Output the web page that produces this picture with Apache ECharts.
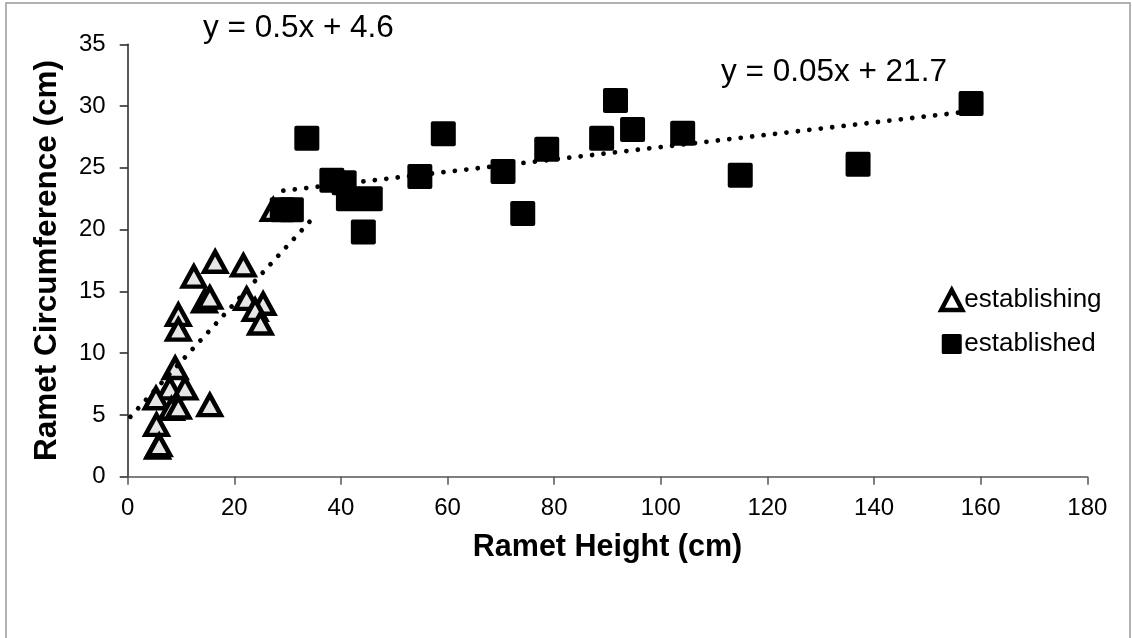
<!DOCTYPE html>
<html>
<head>
<meta charset="utf-8">
<script src="https://cdn.jsdelivr.net/npm/echarts@6/dist/echarts.min.js"></script>
<style>
  html, body { margin: 0; padding: 0; background: #fff; }
  #chart { width: 1132px; height: 638px; }
</style>
</head>
<body>
<div id="chart"></div>
<script>
// ramet height (cm), circumference (cm)
var establishing = [
	[16.4, 17.4], [21.7, 17.1], [12.4, 16.2], [14.4, 14.2], [15.4, 14.5],
	[9.5, 13.1], [9.5, 11.9], [22.3, 14.4], [25.4, 14.0], [23.9, 13.5],
	[24.9, 12.4], [8.9, 8.8], [7.9, 7.15], [10.75, 7.15], [5.3, 6.35],
	[8.2, 5.5], [9.5, 5.6], [15.4, 5.8], [5.4, 4.2], [5.6, 2.35],
	[5.9, 2.55], [27.3, 21.6]
];
var established = [
	[29.0, 21.6], [30.7, 21.6], [33.6, 27.4], [38.3, 24.0], [40.6, 23.8],
	[41.4, 22.5], [45.5, 22.5], [44.2, 19.8], [54.8, 24.3], [59.2, 27.75],
	[70.4, 24.7], [74.1, 21.3], [78.6, 26.5], [88.9, 27.4], [91.5, 30.45],
	[94.7, 28.1], [104.1, 27.8], [114.9, 24.4], [137.0, 25.3], [158.2, 30.2]
];
// trendline end points
var establishingFit = [[0.5, 4.85], [35.3, 21.2]];
var establishedFit = [[29.2, 23.15], [158.5, 29.6]];
var fitLabels = ['y = 0.5x + 4.6', 'y = 0.05x + 21.7'];
var seriesNames = ['establishing', 'established'];

var font = "'Liberation Sans', Arial, sans-serif";
// square marker with slightly rounded corners, like the Excel one
var roundSquare = 'path://M2,0 H23 Q25,0 25,2 V23 Q25,25 23,25 H2 Q0,25 0,23 V2 Q0,0 2,0 Z';

function fitSeries(data){
	return {
		type: 'line',
		data: data,
		symbol: 'none',
		silent: true,
		z: 5,
		lineStyle: {
			color: '#000',
			width: 4.8,
			type: [0.01, 11.5],
			cap: 'round'
		}
	};
}

var chart = echarts.init(document.getElementById('chart'));
chart.setOption({
	animation: false,
	textStyle: { fontFamily: font },
	grid: {
		left: 127.7,
		right: 44.7,
		top: 44.3,
		bottom: 161.3
	},
	legend: {
		orient: 'vertical',
		left: 934,
		top: 282,
		itemWidth: 21,
		itemHeight: 20,
		itemGap: 18,
		data: [
			{
				name: seriesNames[0],
				icon: 'triangle',
				itemStyle: { color: '#fff', borderColor: '#000', borderWidth: 4.5 }
			},
			{
				name: seriesNames[1],
				icon: roundSquare
			}
		],
		textStyle: { fontSize: 26, color: '#000', fontFamily: font, padding: [0, 0, 0, -3] }
	},
	xAxis: {
		type: 'value',
		min: 0,
		max: 180,
		interval: 20,
		splitLine: { show: false },
		axisLine: { onZero: false, lineStyle: { color: '#555', width: 1.5 } },
		axisTick: { length: 8, lineStyle: { color: '#555', width: 1.5 } },
		axisLabel: { fontSize: 24, color: '#000', margin: 20 },
		name: 'Ramet Height (cm)',
		nameLocation: 'middle',
		nameGap: 55,
		nameTextStyle: { fontSize: 30.5, fontWeight: 'bold', color: '#000' }
	},
	yAxis: {
		type: 'value',
		min: 0,
		max: 35,
		interval: 5,
		splitLine: { show: false },
		axisLine: { show: true, onZero: false, lineStyle: { color: '#222', width: 1.5 } },
		axisTick: { show: true, length: 8, lineStyle: { color: '#222', width: 1.5 } },
		axisLabel: { fontSize: 24, color: '#000', margin: 22 },
		name: 'Ramet Circumference (cm)',
		nameLocation: 'middle',
		nameGap: 64,
		nameTextStyle: { fontSize: 31.5, fontWeight: 'bold', color: '#000' }
	},
	graphic: [
		{
			type: 'rect',
			shape: { x: 6, y: 3, width: 1124, height: 660 },
			style: { fill: 'none', stroke: '#999', lineWidth: 1.5 },
			silent: true,
			z: -10
		},
		{
			type: 'text',
			left: 203,
			top: 12,
			style: { text: fitLabels[0], font: '31.5px ' + font, fill: '#000' }
		},
		{
			type: 'text',
			left: 721,
			top: 56,
			style: { text: fitLabels[1], font: '31.5px ' + font, fill: '#000' }
		}
	],
	series: [
		{
			name: seriesNames[0],
			type: 'scatter',
			data: establishing,
			symbol: 'triangle',
			symbolSize: [22, 20],
			z: 3,
			itemStyle: {
				color: '#e6e6e6',
				borderColor: '#000',
				borderWidth: 4.5,
				opacity: 1
			}
		},
		{
			name: seriesNames[1],
			type: 'scatter',
			data: established,
			symbol: roundSquare,
			symbolSize: 25,
			z: 4,
			itemStyle: { color: '#000', opacity: 1 }
		},
		fitSeries(establishingFit),
		fitSeries(establishedFit)
	]
});
</script>
</body>
</html>
